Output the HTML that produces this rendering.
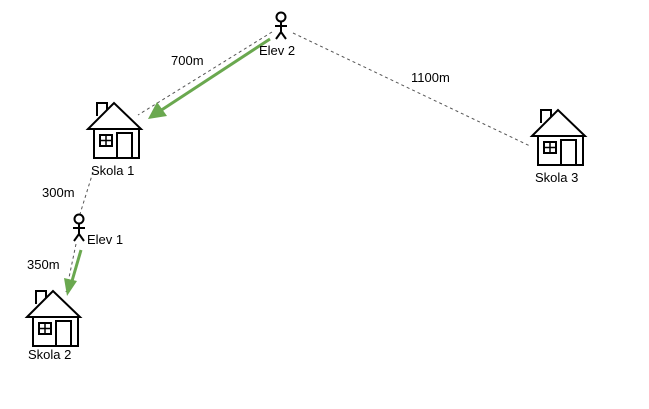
<!DOCTYPE html>
<html><head><style>body{margin:0;background:#fff}svg{display:block}text{font-family:"Liberation Sans",sans-serif;font-size:13px;fill:#000}</style></head>
<body>
<svg width="649" height="409" viewBox="0 0 649 409">
<defs>
<g id="house" fill="#fff" stroke="#000" stroke-width="2">
<path d="M9,14 V1 H19 V8" />
<path d="M0,27 L26,1 L53,27 Z" />
<rect x="6" y="27" width="45" height="29"/>
<rect x="12" y="33" width="12" height="11"/>
<path d="M18,33 V44 M12,38.5 H24" stroke-width="1.5"/>
<rect x="29" y="31" width="15" height="25"/>
</g>
<g id="man" fill="none" stroke="#000" stroke-width="2">
<circle cx="0" cy="0" r="4.5"/>
<path d="M0,4.5 V15 M-6,9 H6 M0,15 L-5,22 M0,15 L5,22"/>
</g>
</defs>
<g stroke="#555" stroke-width="1" stroke-dasharray="3,3" fill="none">
<path d="M272,32 L138,115"/>
<path d="M293,33 L530,146"/>
<path d="M93,172 L80,214"/>
<path d="M76,244 L66,292"/>
</g>
<use href="#house" x="88" y="102"/>
<use href="#house" x="532" y="109"/>
<use href="#house" x="27" y="290"/>
<use href="#man" x="281" y="17"/>
<use href="#man" x="79" y="219"/>
<g stroke="#6aa84f" stroke-width="3" fill="#6aa84f">
<path d="M270,39 L160,111"/>
<path d="M148,119 L157,102 L167,116 Z" stroke="none"/>
<path d="M81,250 L72,281"/>
<path d="M67,296 L64,278 L77,281 Z" stroke="none"/>
</g>
<text x="259" y="55">Elev 2</text>
<text x="171" y="65">700m</text>
<text x="411" y="82">1100m</text>
<text x="91" y="175">Skola 1</text>
<text x="535" y="182">Skola 3</text>
<text x="42" y="197">300m</text>
<text x="87" y="244">Elev 1</text>
<text x="27" y="269">350m</text>
<text x="28" y="359">Skola 2</text>
</svg>
</body></html>
